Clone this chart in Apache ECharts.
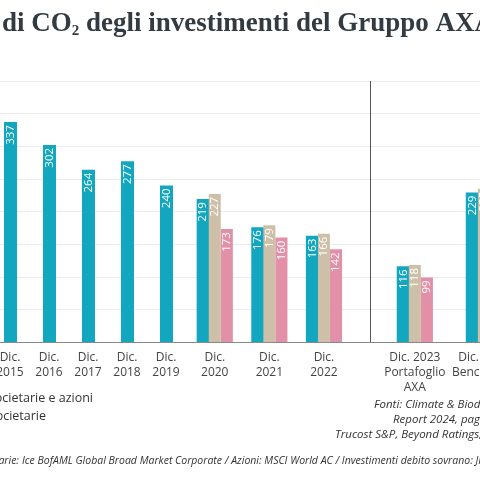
<!DOCTYPE html>
<html>
<head>
<meta charset="utf-8">
<script src="https://cdn.jsdelivr.net/npm/echarts@6/dist/echarts.min.js"></script>
<style>html,body{margin:0;padding:0;background:#fff}#c{width:480px;height:480px}</style>
</head>
<body>
<div id="c"></div>
<script>
// category positions on the x scale (slot units)
const labels = ['Dic.\n2015', 'Dic.\n2016', 'Dic.\n2017', 'Dic.\n2018', 'Dic.\n2019', 'Dic.\n2020', 'Dic.\n2021', 'Dic.\n2022', 'Dic. 2023\nPortafoglio\nAXA', 'Dic. 2023\nBenchmark']
const slots = [0, 1, 2, 3, 4, 5.25, 6.65, 8.05, 10.38, 12.15]
const total = [337, 302, 264, 277, 240, 219, 176, 163, 116, 229]
const corpEq = [null, null, null, null, null, 227, 179, 166, 118, 235]
const corp = [null, null, null, null, null, 173, 160, 142, 99, 200]
const sepSlot = 9.22
const off = 0.31

const chart = echarts.init(document.getElementById('c'))

function mk(vals, shift, color) {
  return {
    type: 'bar', barWidth: 12, barGap: '-100%', itemStyle: { color },
    data: vals.map((v, i) => v == null ? null : [slots[i] + (corpEq[i] == null ? 0 : shift), v]),
    label: {
      show: true, rotate: 90, position: 'insideTop', align: 'right', verticalAlign: 'middle',
      distance: 3, color: '#fff', fontSize: 11.5, fontFamily: 'Open Sans',
      formatter: p => p.value[1]
    }
  }
}

const series = [mk(total, -off, '#13a6bf'), mk(corpEq, 0, '#cdbfa8'), mk(corp, off, '#e28fa8')]
series[0].barWidth = 13
series[0].markLine = {
  silent: true, symbol: 'none', label: { show: false },
  lineStyle: { color: '#555', width: 1, type: 'solid' },
  data: [[{ coord: [sepSlot, 0] }, { coord: [sepSlot, 400] }]]
}

chart.setOption({
  animation: false,
  grid: { left: 0, right: -30, top: 81, bottom: 138, outerBoundsMode: 'none', containLabel: false },
  xAxis: {
    type: 'value', min: -0.256, max: 12.82,
    splitLine: { show: false },
    axisLine: { show: true, onZero: false, lineStyle: { color: '#888' } },
    axisTick: { show: false },
    axisLabel: {
      customValues: slots, margin: 8, color: '#444', fontSize: 12, lineHeight: 15,
      fontFamily: 'Open Sans', showMinLabel: true, showMaxLabel: true, hideOverlap: false,
      formatter: v => labels[slots.indexOf(v)] || ''
    }
  },
  yAxis: {
    type: 'value', min: 0, max: 400, interval: 50,
    axisLabel: { show: false }, axisLine: { show: false }, axisTick: { show: false },
    splitLine: { lineStyle: { color: '#ececec' } }
  },
  series,
  graphic: [
    { type: 'text', left: 2, top: 11, style: {
      text: '{t|di CO}{s|2}{t| degli investimenti del Gruppo AXA}',
      rich: {
        t: { fontFamily: 'Liberation Serif', fontWeight: 'bold', fontSize: 27, fill: '#333b42' },
        s: { fontFamily: 'Liberation Serif', fontWeight: 'bold', fontSize: 15, fill: '#333b42', padding: [14, 0, 0, 0] }
      } } },
    { type: 'text', x: 93, y: 392, style: { text: 'Obbligazioni societarie e azioni', align: 'right', fontSize: 12.5, fontFamily: 'Open Sans', fill: '#333' } },
    { type: 'text', x: 46, y: 410, style: { text: 'Obbligazioni societarie', align: 'right', fontSize: 12.5, fontFamily: 'Open Sans', fill: '#333' } },
    { type: 'text', x: 374, y: 399, style: { text: 'Fonti: Climate & Biodiversity', fontSize: 11.5, fontStyle: 'italic', fontFamily: 'Open Sans', fill: '#333' } },
    { type: 'text', x: 393, y: 414, style: { text: 'Report 2024, pagina 30;', fontSize: 11.5, fontStyle: 'italic', fontFamily: 'Open Sans', fill: '#333' } },
    { type: 'text', x: 335, y: 429, style: { text: 'Trucost S&P, Beyond Ratings, MSCI', fontSize: 11.5, fontStyle: 'italic', fontFamily: 'Open Sans', fill: '#333' } },
    { type: 'text', x: 19, y: 456, style: { text: 'Benchmark: Obbligazioni societarie:', align: 'right', fontSize: 10.5, fontStyle: 'italic', fontFamily: 'Open Sans', fill: '#333' } },
    { type: 'text', x: 22, y: 456, style: { text: 'Ice BofAML Global Broad Market Corporate / Azioni: MSCI World AC / Investimenti debito sovrano: JPM GBI', fontSize: 10.5, fontStyle: 'italic', fontFamily: 'Open Sans', fill: '#333' } }
  ]
})
</script>
</body>
</html>
